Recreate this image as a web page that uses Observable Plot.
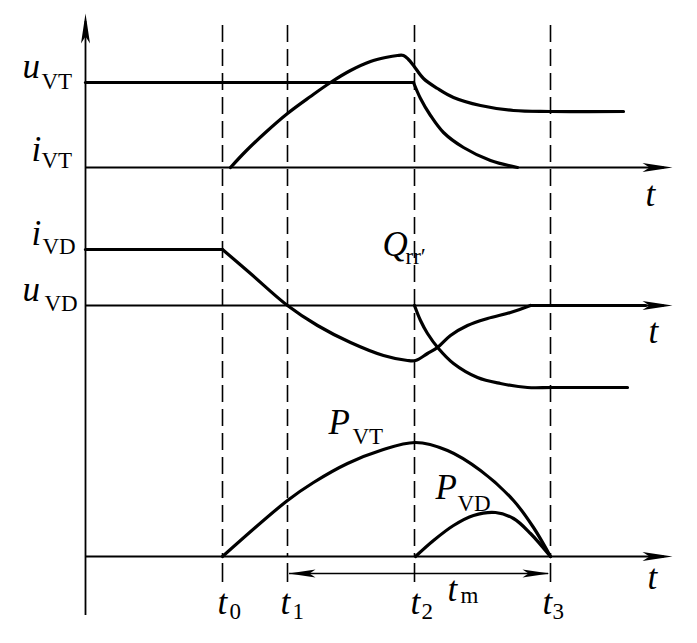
<!DOCTYPE html>
<html><head><meta charset="utf-8">
<script src="https://cdn.jsdelivr.net/npm/d3@7"></script>
<script src="https://cdn.jsdelivr.net/npm/@observablehq/plot@0.6"></script>
<style>
html,body{margin:0;padding:0;background:#fff;}
svg{display:block;background:#fff;}
</style></head><body><div id="chart"></div>
<script>
// ---- time instants (time units along the t axis, origin at the vertical axis)
const markerSubs = ["0", "1", "2", "3"];
const markerTimes = [137, 202, 329, 465];
const axisEnd = 587;

// ---- top panel: u_VT and i_VT  [t, value above the i_VT axis]
const uVTFlat = [[0, 85], [328, 85]];
const uVTFall = [[328, 85], [335, 69], [345, 52], [358, 35], [378, 20], [405, 7], [432, 0]];
const iVT = [[145, 0], [160, 16], [180, 35], [202, 54], [225, 71], [245, 85], [265, 97], [285, 106],
  [300, 110], [312, 112], [318, 112], [323, 108], [328, 102], [338, 89], [352, 79], [368, 70],
  [395, 62], [428, 57], [465, 56], [538, 56]];

// ---- middle panel: i_VD and u_VD  [t, value relative to the u_VD axis]
const iVDFlat = [[0, 56], [137, 56]];
const iVD = [[137, 56], [165, 32], [202, 0], [232, -20], [265, -37], [298, -50], [322, -55],
  [330, -55], [342, -48], [352, -42], [365, -30], [382, -20], [402, -13], [425, -7], [445, 0]];
const iVDTail = [[445, 0], [560, 0]];
const uVD = [[329, 0], [335, -15], [342, -28], [353, -43], [368, -58], [392, -72], [415, -78],
  [442, -82], [467, -82], [542, -82]];

// ---- bottom panel: P_VT and P_VD
const pVT = [[137, 0], [202, 56], [228, 74], [262, 93], [295, 106], [330, 114], [362, 106],
  [395, 86], [428, 56], [448, 29], [465, 0]];
const pVD = [[330, 0], [348, 16], [368, 31], [388, 41], [410, 44], [428, 38], [445, 23], [465, 0]];

// ---- layout of the three panels (axis levels on the y scale)
const baseTop = 476, baseMid = 338, baseBot = 87;

// ---- text labels: main (italic) letter and subscript
const mainText = ["u", "i", "i", "u", "Q", "P", "P", "t", "t", "t", "t", "t", "t", "t", "t"];
const mainPos = [[-63, 566], [-54, 483], [-54, 399], [-63, 343], [297, 388], [243, 210], [350, 145],
  [560, 438], [563, 301], [562, 55], [132, 30], [195, 30], [325, 30], [457, 30], [362, 43]];
const subText = ["VT", "VT", "VD", "VD", "rr\u2032", "VT", "VD", "0", "1", "2", "3", "m"];
const subPos = [[-44, 555], [-44, 476], [-43, 390], [-41, 333], [320, 380], [267, 200], [372, 133],
  [144, 25], [207, 25], [336, 25], [467, 25], [375, 41]];

// ---- build tables
function series(name, pts, base) { return pts.map(([t, v]) => ({name, t, y: base + v})); }
const curves = [
  ...series("uVTFlat", uVTFlat, baseTop), ...series("uVTFall", uVTFall, baseTop), ...series("iVT", iVT, baseTop),
  ...series("iVDFlat", iVDFlat, baseMid), ...series("iVD", iVD, baseMid), ...series("iVDTail", iVDTail, baseMid),
  ...series("uVD", uVD, baseMid),
  ...series("pVT", pVT, baseBot), ...series("pVD", pVD, baseBot)
];
const mains = mainText.map((s, i) => ({s, x: mainPos[i][0], y: mainPos[i][1]}));
const subs = subText.map((s, i) => ({s, x: subPos[i][0], y: subPos[i][1]}));
const hAxes = [baseTop, baseMid, baseBot].map(y => ({y, x1: 0, x2: axisEnd - 8}));
const dimY = 70;

// arrowhead symbols
const arrowRight = {draw(c) { c.moveTo(0, 0); c.lineTo(-30, -4.5); c.lineTo(-23, 0); c.lineTo(-30, 4.5); c.closePath(); }};
const arrowUp = {draw(c) { c.moveTo(0, 0); c.lineTo(-4.5, 30); c.lineTo(0, 23); c.lineTo(4.5, 30); c.closePath(); }};
const dimRight = {draw(c) { c.moveTo(0, 0); c.lineTo(-27, -4); c.lineTo(-21, 0); c.lineTo(-27, 4); c.closePath(); }};
const dimLeft = {draw(c) { c.moveTo(0, 0); c.lineTo(27, -4); c.lineTo(21, 0); c.lineTo(27, 4); c.closePath(); }};

const font = "'Liberation Serif', 'DejaVu Serif', serif";

const plot = Plot.plot({
  width: 697, height: 643,
  marginLeft: 0, marginRight: 0, marginTop: 0, marginBottom: 0,
  x: {domain: [-85, 612], axis: null},
  y: {domain: [0, 643], axis: null},
  style: {background: "#fff"},
  marks: [
    // dashed time markers
    Plot.ruleX(markerTimes.map(t => ({t, y1: 618, y2: 86})), {x: "t", y1: "y1", y2: "y2", stroke: "#000", strokeWidth: 1.6, strokeDasharray: "17,7"}),
    Plot.ruleX(markerTimes.map(t => ({t})), {x: "t", y1: 80, y2: 61, stroke: "#000", strokeWidth: 1.6}),
    // axes
    Plot.ruleY(hAxes, {y: "y", x1: "x1", x2: "x2", stroke: "#000", strokeWidth: 1.8}),
    Plot.ruleX([{x: 0}], {x: "x", y1: 28, y2: 622, stroke: "#000", strokeWidth: 1.8}),
    Plot.dot(hAxes, {x: axisEnd, y: "y", symbol: arrowRight, fill: "#000", stroke: "none", r: 5}),
    Plot.dot([{x: 0, y: 630}], {x: "x", y: "y", symbol: arrowUp, fill: "#000", stroke: "none", r: 5}),
    // t_m dimension arrow
    Plot.ruleY([{y: dimY, x1: markerTimes[1] + 2, x2: markerTimes[3] - 2}], {y: "y", x1: "x1", x2: "x2", stroke: "#000", strokeWidth: 1.4}),
    Plot.dot([{x: markerTimes[1] + 1, y: dimY}], {x: "x", y: "y", symbol: dimLeft, fill: "#000", stroke: "none", r: 5}),
    Plot.dot([{x: markerTimes[3] - 1, y: dimY}], {x: "x", y: "y", symbol: dimRight, fill: "#000", stroke: "none", r: 5}),
    // waveforms
    Plot.line(curves, {x: "t", y: "y", z: "name", curve: "catmull-rom", stroke: "#000", strokeWidth: 3.2, strokeLinejoin: "round"}),
    // labels
    Plot.text(mains, {x: "x", y: "y", text: "s", textAnchor: "start", lineAnchor: "bottom", fontSize: 35, fontStyle: "italic", fontFamily: font, fill: "#000"}),
    Plot.text(subs, {x: "x", y: "y", text: "s", textAnchor: "start", lineAnchor: "bottom", fontSize: 23, fontFamily: font, fill: "#000"})
  ]
});
document.getElementById("chart").appendChild(plot);
</script>
</body></html>
